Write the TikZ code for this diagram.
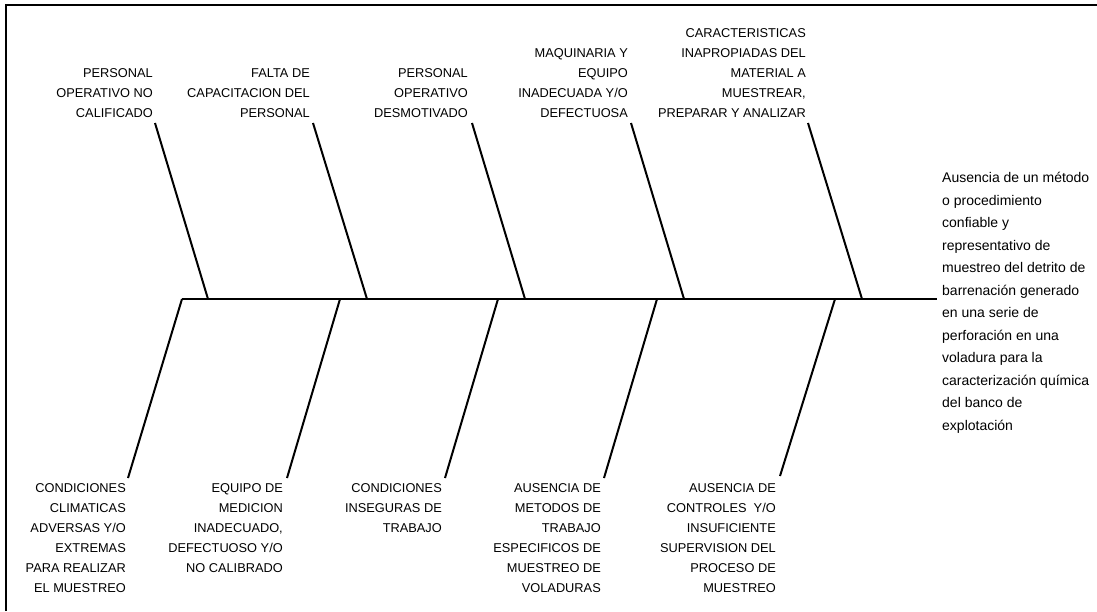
\documentclass[tikz,border=0pt]{standalone}
\usepackage{fontspec}
\setmainfont{Liberation Sans}
\begin{document}
\begin{tikzpicture}[x=1pt,y=-1pt,
  bone/.style={line width=2pt},
  spine/.style={line width=1.8pt},
  frameline/.style={line width=2pt},
  cause/.style={inner sep=0pt, align=right, font=\fontsize{12.8}{20}\selectfont},
  effect/.style={inner sep=0pt, align=left, font=\fontsize{14}{22.5}\selectfont}]
\useasboundingbox (0,0) rectangle (1097,611);
% frame (top and left edges)
\coordinate (fbl) at (6,611);
\coordinate (ftl) at (6,5);
\coordinate (ftr) at (1097,5);
\draw[frameline] (fbl) -- (ftl) -- (ftr);

% spine
\coordinate (sp0) at (182,299);
\coordinate (head) at (937,299);
\draw[spine] (sp0) -- (head);

% effect
\node[effect, anchor=north west] (effect) at (942,172) {Ausencia de un método\\o procedimiento\\confiable y\\representativo de\\muestreo del detrito de\\barrenación generado\\en una serie de\\perforación en una\\voladura para la\\caracterización química\\del banco de\\explotación};

% top causes
\node[cause, anchor=south east] (c1) at (153,118) {PERSONAL\\OPERATIVO NO\\CALIFICADO};
\node[cause, anchor=south east] (c2) at (310,118) {FALTA DE\\CAPACITACION DEL\\PERSONAL};
\node[cause, anchor=south east] (c3) at (468,118) {PERSONAL\\OPERATIVO\\DESMOTIVADO};
\node[cause, anchor=south east] (c4) at (628,118) {MAQUINARIA Y\\EQUIPO\\INADECUADA Y/O\\DEFECTUOSA};
\node[cause, anchor=south east] (c5) at (806,118) {CARACTERISTICAS\\INAPROPIADAS DEL\\MATERIAL A\\MUESTREAR,\\PREPARAR Y ANALIZAR};

% bottom causes
\node[cause, anchor=north east] (c6) at (126,483) {CONDICIONES\\CLIMATICAS\\ADVERSAS Y/O\\EXTREMAS\\PARA REALIZAR\\EL MUESTREO};
\node[cause, anchor=north east] (c7) at (283,483) {EQUIPO DE\\MEDICION\\INADECUADO,\\DEFECTUOSO Y/O\\NO CALIBRADO};
\node[cause, anchor=north east] (c8) at (442,483) {CONDICIONES\\INSEGURAS DE\\TRABAJO};
\node[cause, anchor=north east] (c9) at (601,483) {AUSENCIA DE\\METODOS DE\\TRABAJO\\ESPECIFICOS DE\\MUESTREO DE\\VOLADURAS};
\node[cause, anchor=north east] (c10) at (776,483) {AUSENCIA DE\\CONTROLES\ \ Y/O\\INSUFICIENTE\\SUPERVISION DEL\\PROCESO DE\\MUESTREO};

% bone tips and spine joints
\coordinate (t1) at (155,123); \coordinate (s1) at (208,299);
\coordinate (t2) at (313,123); \coordinate (s2) at (367,299);
\coordinate (t3) at (472,123); \coordinate (s3) at (525,299);
\coordinate (t4) at (631,123); \coordinate (s4) at (684,299);
\coordinate (t5) at (808,123); \coordinate (s5) at (862,299);
\coordinate (b6) at (128,478); \coordinate (s6) at (182,299);
\coordinate (b7) at (287,478); \coordinate (s7) at (340,299);
\coordinate (b8) at (445,478); \coordinate (s8) at (498,299);
\coordinate (b9) at (604,478); \coordinate (s9) at (657,299);
\coordinate (b10) at (780,476); \coordinate (s10) at (835,299);

\foreach \i in {1,...,5} \draw[bone] (t\i) -- (s\i);
\foreach \i in {6,...,10} \draw[bone] (b\i) -- (s\i);
\end{tikzpicture}
\end{document}
